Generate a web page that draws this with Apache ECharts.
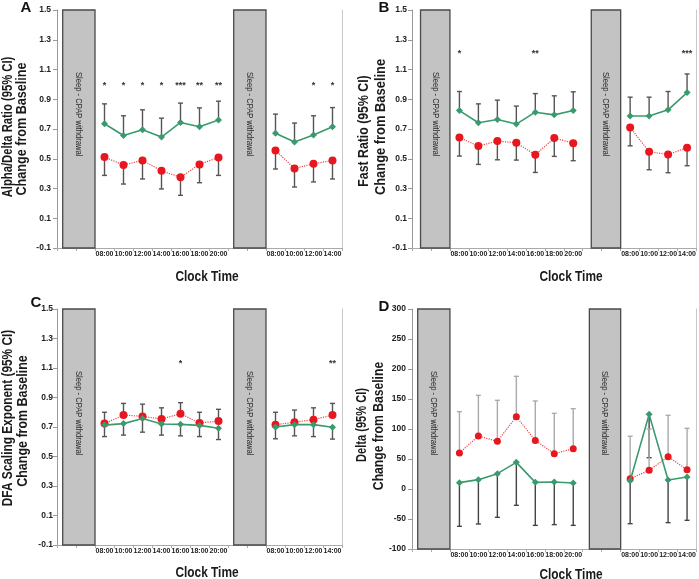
<!DOCTYPE html>
<html><head><meta charset="utf-8">
<script src="https://cdn.jsdelivr.net/npm/echarts@6/dist/echarts.min.js"></script>
<style>html,body{margin:0;padding:0;background:#fff}#c{width:699px;height:579px}</style>
</head><body><div id="c"></div>
<script>
// ---------- shared categories ----------
const categories = ['', '', '08:00','10:00','12:00','14:00','16:00','18:00','20:00','', '', '08:00','10:00','12:00','14:00'];
const sleepLabel = 'Sleep - CPAP withdrawal';
const xTitle = 'Clock Time';
const panelLetters = ['A','B','C','D'];
const yTitleLine1 = ['Alpha/Delta Ratio (95% CI)', 'Fast Ratio (95% CI)', 'DFA Scaling Exponent (95% CI)', 'Delta (95% CI)'];
const yTitleLine2 = ['Change from Baseline', 'Change from Baseline', 'Change from Baseline', 'Change from Baseline'];

// ---------- Panel A: Alpha/Delta ratio ----------
const aGreen      = [null,null,0.735,0.656,0.695,0.646,0.744,0.715,0.760,null,null,0.672,0.612,0.659,0.715];
const aGreenUpper = [null,null,0.869,0.789,0.829,0.773,0.874,0.842,0.887,null,null,0.800,0.740,0.789,0.844];
const aRed        = [null,null,0.511,0.458,0.489,0.419,0.375,0.462,0.509,null,null,0.556,0.435,0.466,0.489];
const aRedLower   = [null,null,0.388,0.330,0.364,0.297,0.254,0.339,0.388,null,null,0.431,0.310,0.344,0.364];
const aStars      = ['','','*','*','*','*','***','**','**','','','','','*','*'];

// ---------- Panel B: Fast ratio ----------
const bGreen      = [null,null,0.824,0.742,0.764,0.733,0.813,0.795,0.824,null,null,0.787,0.787,0.829,0.945];
const bGreenUpper = [null,null,0.952,0.869,0.894,0.854,0.938,0.923,0.950,null,null,0.914,0.914,0.952,1.070];
const bRed        = [null,null,0.643,0.585,0.619,0.607,0.527,0.639,0.605,null,null,0.710,0.547,0.529,0.574];
const bRedLower   = [null,null,0.518,0.462,0.493,0.491,0.408,0.516,0.487,null,null,0.587,0.426,0.406,0.453];
const bStars      = ['','','*','','','','**','','','','','','','','***'];

// ---------- Panel C: DFA scaling exponent ----------
const cGreen      = [null,null,0.713,0.723,0.757,0.720,0.718,0.711,0.691,null,null,0.700,0.716,0.716,0.698];
const cGreenLower = [null,null,0.635,0.645,0.665,0.645,0.640,0.635,0.615,null,null,0.620,0.640,0.635,0.618];
const cRed        = [null,null,0.723,0.781,0.772,0.754,0.790,0.727,0.740,null,null,0.716,0.732,0.750,0.781];
const cRedUpper   = [null,null,0.800,0.860,0.855,0.830,0.865,0.800,0.820,null,null,0.800,0.815,0.830,0.860];
const cStars      = ['','','','','','','*','','','','','','','','**'];

// ---------- Panel D: Delta ----------
const dGreen      = [null,null,10.6,15.6,25.6,44.4,11.1,11.7,10.0,null,null,13.9,124.4,15.0,20.0];
const dGreenLower = [null,null,-62.2,-58.3,-47.2,-27.2,-60.6,-59.4,-60.6,null,null,-57.8,52.2,-56.1,-52.2];
const dRed        = [null,null,60.0,88.3,79.4,120.6,81.0,58.9,67.2,null,null,17.2,31.1,53.9,32.2];
const dRedUpper   = [null,null,128.9,156.1,147.8,187.8,146.7,126.1,133.9,null,null,88.0,100.0,122.8,101.1];
const dStars      = ['','','','','','','','','','','','','','',''];

// ---------- style / layout ----------
const GREEN = '#3a9a6e', RED = '#e8161e', RED_LINE = '#ee4545';
const SANS = '"Liberation Sans",Arial,sans-serif';

const panels = [
  {grid:{left:57,top:10,width:285,height:238}, min:-0.1, max:1.5, interval:0.2, dec:true,
   labelMargin:6, letterPos:[26,8], yT1:[8,127,0.75], yT2:[22,129,0.84], xTitlePos:[207,277],
   blocks:[[0.3,2],[9.3,11]], green:aGreen, greenBar:aGreenUpper, red:aRed, redBar:aRedLower,
   stars:aStars, starY:0.995, greenBarColor:'#555', redBarColor:'#555', redSize:8},
  {grid:{left:412,top:10,width:285,height:238}, min:-0.1, max:1.5, interval:0.2, dec:true,
   labelMargin:5, letterPos:[384,8], yT1:[364,131,0.82], yT2:[381,127,0.86], xTitlePos:[571,277],
   blocks:[[0.45,2],[9.45,11]], green:bGreen, greenBar:bGreenUpper, red:bRed, redBar:bRedLower,
   stars:bStars, starY:1.205, greenBarColor:'#555', redBarColor:'#555', redSize:8},
  {grid:{left:57,top:309,width:285,height:236}, min:-0.1, max:1.5, interval:0.2, dec:true,
   labelMargin:4, letterPos:[36,303], yT1:[8,418,0.79], yT2:[23,421,0.83], xTitlePos:[207,573],
   blocks:[[0.3,2],[9.3,11]], green:cGreen, greenBar:cGreenLower, red:cRed, redBar:cRedUpper,
   stars:cStars, starY:1.13, greenBarColor:'#555', redBarColor:'#555', redSize:8},
  {grid:{left:412,top:309,width:285,height:240}, min:-100, max:300, interval:50, dec:false,
   labelMargin:6, letterPos:[384,307], yT1:[362,425,0.74], yT2:[379,426,0.81], xTitlePos:[571,575],
   blocks:[[0.3,2],[9.35,11]], green:dGreen, greenBar:dGreenLower, red:dRed, redBar:dRedUpper,
   stars:dStars, starY:270, greenBarColor:'#444', redBarColor:'#aaa', redSize:7}
];

const option = {
  backgroundColor:'#fff', animation:false,
  grid:[], xAxis:[], yAxis:[], series:[], graphic:[]
};

function errSeries(xi, yi, vals, bounds, color){
  const data = [];
  vals.forEach((v,i)=>{ if(v!=null) data.push([i, v, bounds[i]]); });
  return {type:'custom', xAxisIndex:xi, yAxisIndex:yi, z:2, silent:true, data,
    encode:{x:0, y:[1,2]},
    renderItem:(params, api)=>{
      const i = api.value(0);
      const p0 = api.coord([i, api.value(1)]);
      const p1 = api.coord([i, api.value(2)]);
      const st = {stroke:color, lineWidth:1.4};
      return {type:'group', children:[
        {type:'line', shape:{x1:p0[0],y1:p0[1],x2:p1[0],y2:p1[1]}, style:st},
        {type:'line', shape:{x1:p1[0]-2.5,y1:p1[1],x2:p1[0]+2.5,y2:p1[1]}, style:st}
      ]};
    }};
}

panels.forEach((p, k)=>{
  // titles (condensed bold text)
  option.graphic.push({type:'text', x:p.letterPos[0], y:p.letterPos[1],
    style:{text:panelLetters[k], font:'bold 15px '+SANS, fill:'#111', textAlign:'center', textVerticalAlign:'middle'}});
  option.graphic.push({type:'text', x:p.yT1[0], y:p.yT1[1], rotation:Math.PI/2, scaleX:p.yT1[2],
    style:{text:yTitleLine1[k], font:'bold 15px '+SANS, fill:'#1a1a1a', textAlign:'center', textVerticalAlign:'middle'}});
  option.graphic.push({type:'text', x:p.yT2[0], y:p.yT2[1], rotation:Math.PI/2, scaleX:p.yT2[2],
    style:{text:yTitleLine2[k], font:'bold 15px '+SANS, fill:'#1a1a1a', textAlign:'center', textVerticalAlign:'middle'}});
  option.graphic.push({type:'text', x:p.xTitlePos[0], y:p.xTitlePos[1], scaleX:0.82,
    style:{text:xTitle, font:'bold 14.5px '+SANS, fill:'#1a1a1a', textAlign:'center', textVerticalAlign:'middle'}});

  option.grid.push(Object.assign({containLabel:false}, p.grid));
  const xc = option.xAxis.length;
  option.xAxis.push({
    type:'category', gridIndex:k, data:categories, boundaryGap:true,
    axisLine:{onZero:false, lineStyle:{color:'#aaa', width:1}},
    axisTick:{show:true, interval:0, length:3, lineStyle:{color:'#aaa'}},
    axisLabel:{interval:0, margin:3, fontFamily:SANS, fontWeight:'bold', fontSize:7, color:'#222'},
    splitLine:{show:false}
  });
  const xv = option.xAxis.length;
  option.xAxis.push({type:'value', gridIndex:k, min:0, max:15, show:false});
  const yl = option.yAxis.length;
  option.yAxis.push({
    type:'value', gridIndex:k, min:p.min, max:p.max, interval:p.interval,
    axisLine:{show:true, lineStyle:{color:'#999'}},
    axisTick:{show:true, length:4, lineStyle:{color:'#999'}},
    axisLabel:{margin:p.labelMargin, fontFamily:SANS, fontWeight:'bold', fontSize:8.5, color:'#222',
      formatter: v => p.dec ? v.toFixed(1) : String(Math.round(v))},
    splitLine:{show:false}
  });
  option.yAxis.push({
    type:'value', gridIndex:k, min:p.min, max:p.max, position:'right',
    axisLine:{show:true, lineStyle:{color:'#c8c8c8'}}, axisTick:{show:false}, axisLabel:{show:false}, splitLine:{show:false}
  });

  // grey "sleep" blocks
  option.series.push({
    type:'custom', xAxisIndex:xv, yAxisIndex:yl, z:1, silent:true, data:p.blocks,
    encode:{x:[0,1]},
    renderItem:(params, api)=>{
      const cs = params.coordSys;
      const x0 = api.coord([api.value(0), p.min])[0];
      const x1 = api.coord([api.value(1), p.min])[0];
      return {type:'group', children:[
        {type:'rect', shape:{x:x0, y:cs.y, width:x1-x0, height:cs.height},
          style:{fill:'#c3c3c3', stroke:'#4a4a4a', lineWidth:1.3}},
        {type:'text', x:(x0+x1)/2, y:cs.y+62, rotation:-Math.PI/2, scaleX:0.8,
          style:{text:sleepLabel, font:'9.5px '+SANS, fill:'#2a2a2a', textAlign:'left', textVerticalAlign:'middle'}}
      ]};
    }
  });

  option.series.push(errSeries(xc, yl, p.green, p.greenBar, p.greenBarColor));
  option.series.push(errSeries(xc, yl, p.red, p.redBar, p.redBarColor));

  option.series.push({type:'line', xAxisIndex:xc, yAxisIndex:yl, z:3, data:p.red, connectNulls:false,
    symbol:'circle', symbolSize:p.redSize, itemStyle:{color:RED},
    lineStyle:{color:RED_LINE, width:1.2, type:'dotted'}});
  option.series.push({type:'line', xAxisIndex:xc, yAxisIndex:yl, z:4, data:p.green, connectNulls:false,
    symbol:'diamond', symbolSize:7, itemStyle:{color:GREEN},
    lineStyle:{color:GREEN, width:1.6}});

  // significance stars
  const sdata = [];
  p.stars.forEach((s,i)=>{ if(s) sdata.push([i, p.starY, s]); });
  option.series.push({type:'custom', xAxisIndex:xc, yAxisIndex:yl, z:5, silent:true, data:sdata,
    encode:{x:0, y:1},
    renderItem:(params, api)=>{
      const pt = api.coord([api.value(0), api.value(1)]);
      return {type:'text', x:pt[0], y:pt[1],
        style:{text:p.stars[api.value(0)], font:'bold 9px '+SANS, fill:'#333', textAlign:'center', textVerticalAlign:'middle'}};
    }});
});

const chart = echarts.init(document.getElementById('c'), null, {renderer:'canvas'});
chart.setOption(option);
</script>
</body></html>
